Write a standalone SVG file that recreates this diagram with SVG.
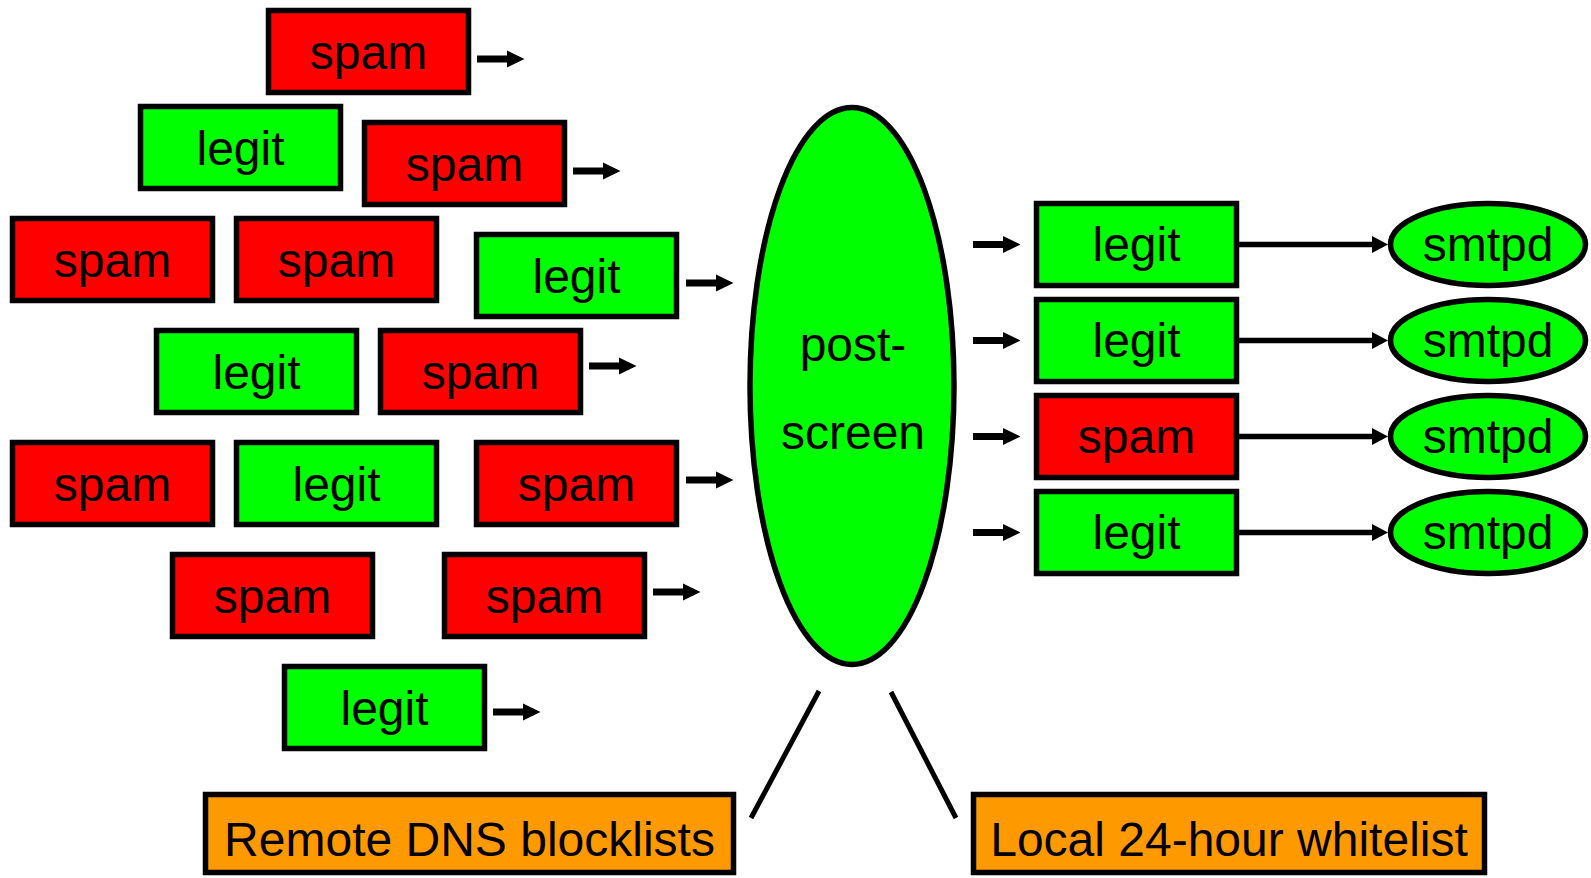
<svg xmlns="http://www.w3.org/2000/svg" xmlns:xlink="http://www.w3.org/1999/xlink" width="1591" height="878" viewBox="0 0 1591 878">
<style>
.box{stroke:#000;stroke-width:5.5}
.spam{fill:#FF0000}
.legit{fill:#00FF00}
.list{fill:#FF9900}
.ell{fill:#00FF00;stroke:#000;stroke-width:5.5}
text{font-family:"Liberation Sans",Arial,sans-serif;font-size:48px;fill:#000;text-anchor:middle}
.conn{stroke:#000;stroke-width:5.5;fill:none}
.tie{stroke:#000;stroke-width:5;fill:none}
</style>
<defs>
<path id="sarrow" d="M0,-3.5 H30 V-8.5 L47.5,0 L30,8.5 V3.5 H0 Z" fill="#000"/>
<marker id="head" markerUnits="userSpaceOnUse" markerWidth="16" markerHeight="17" refX="2" refY="8.5" orient="auto">
<path d="M0,0 L16,8.5 L0,17 Z" fill="#000"/>
</marker>
</defs>
<g id="connectors">
<use xlink:href="#sarrow" href="#sarrow" x="477" y="59"/>
<use xlink:href="#sarrow" href="#sarrow" x="573" y="171"/>
<use xlink:href="#sarrow" href="#sarrow" x="686" y="283"/>
<use xlink:href="#sarrow" href="#sarrow" x="589" y="366"/>
<use xlink:href="#sarrow" href="#sarrow" x="686" y="480"/>
<use xlink:href="#sarrow" href="#sarrow" x="653" y="592"/>
<use xlink:href="#sarrow" href="#sarrow" x="493" y="712"/>
<use xlink:href="#sarrow" href="#sarrow" x="973" y="244.5"/>
<use xlink:href="#sarrow" href="#sarrow" x="973" y="340.5"/>
<use xlink:href="#sarrow" href="#sarrow" x="973" y="436.5"/>
<use xlink:href="#sarrow" href="#sarrow" x="973" y="532.5"/>
<line class="conn" x1="1239" y1="244.5" x2="1374" y2="244.5" marker-end="url(#head)"/>
<line class="conn" x1="1239" y1="340.5" x2="1374" y2="340.5" marker-end="url(#head)"/>
<line class="conn" x1="1239" y1="436.5" x2="1374" y2="436.5" marker-end="url(#head)"/>
<line class="conn" x1="1239" y1="532.5" x2="1374" y2="532.5" marker-end="url(#head)"/>
<line class="tie" x1="819" y1="691" x2="751" y2="818"/>
<line class="tie" x1="891" y1="692" x2="956" y2="818"/>
</g>
<g id="in1"><rect class="box spam" x="268.5" y="10.5" width="200" height="82"/><text x="368.5" y="69">spam</text></g>
<g id="in2"><rect class="box legit" x="140.5" y="106.5" width="200" height="82"/><text x="240.5" y="165">legit</text></g>
<g id="in3"><rect class="box spam" x="364.5" y="122.5" width="200" height="82"/><text x="464.5" y="181">spam</text></g>
<g id="in4"><rect class="box spam" x="12.5" y="218.5" width="200" height="82"/><text x="112.5" y="277">spam</text></g>
<g id="in5"><rect class="box spam" x="236.5" y="218.5" width="200" height="82"/><text x="336.5" y="277">spam</text></g>
<g id="in6"><rect class="box legit" x="476.5" y="234.5" width="200" height="82"/><text x="576.5" y="293">legit</text></g>
<g id="in7"><rect class="box legit" x="156.5" y="330.5" width="200" height="82"/><text x="256.5" y="389">legit</text></g>
<g id="in8"><rect class="box spam" x="380.5" y="330.5" width="200" height="82"/><text x="480.5" y="389">spam</text></g>
<g id="in9"><rect class="box spam" x="12.5" y="442.5" width="200" height="82"/><text x="112.5" y="501">spam</text></g>
<g id="in10"><rect class="box legit" x="236.5" y="442.5" width="200" height="82"/><text x="336.5" y="501">legit</text></g>
<g id="in11"><rect class="box spam" x="476.5" y="442.5" width="200" height="82"/><text x="576.5" y="501">spam</text></g>
<g id="in12"><rect class="box spam" x="172.5" y="554.5" width="200" height="82"/><text x="272.5" y="613">spam</text></g>
<g id="in13"><rect class="box spam" x="444.5" y="554.5" width="200" height="82"/><text x="544.5" y="613">spam</text></g>
<g id="in14"><rect class="box legit" x="284.5" y="666.5" width="200" height="82"/><text x="384.5" y="725">legit</text></g>
<g id="postscreen"><ellipse class="ell" cx="852" cy="386" rx="102" ry="278.5"/><text x="853" y="361">post-</text><text x="853" y="449">screen</text></g>
<g id="out1"><rect class="box legit" x="1036.5" y="203.5" width="200" height="82"/><text x="1136.5" y="261">legit</text></g>
<g id="out2"><rect class="box legit" x="1036.5" y="299.5" width="200" height="82"/><text x="1136.5" y="357">legit</text></g>
<g id="out3"><rect class="box spam" x="1036.5" y="395.5" width="200" height="82"/><text x="1136.5" y="453">spam</text></g>
<g id="out4"><rect class="box legit" x="1036.5" y="491.5" width="200" height="82"/><text x="1136.5" y="549">legit</text></g>
<g id="smtpd1"><ellipse class="ell" cx="1488" cy="244.5" rx="97.5" ry="41"/><text x="1488" y="261">smtpd</text></g>
<g id="smtpd2"><ellipse class="ell" cx="1488" cy="340.5" rx="97.5" ry="41"/><text x="1488" y="357">smtpd</text></g>
<g id="smtpd3"><ellipse class="ell" cx="1488" cy="436.5" rx="97.5" ry="41"/><text x="1488" y="453">smtpd</text></g>
<g id="smtpd4"><ellipse class="ell" cx="1488" cy="532.5" rx="97.5" ry="41"/><text x="1488" y="549">smtpd</text></g>
<g id="dnsbl"><rect class="box list" x="205.5" y="794.5" width="528" height="78"/><text x="469.5" y="856">Remote DNS blocklists</text></g>
<g id="whitelist"><rect class="box list" x="973.5" y="794.5" width="511" height="78"/><text x="1229" y="856">Local 24-hour whitelist</text></g>
</svg>
